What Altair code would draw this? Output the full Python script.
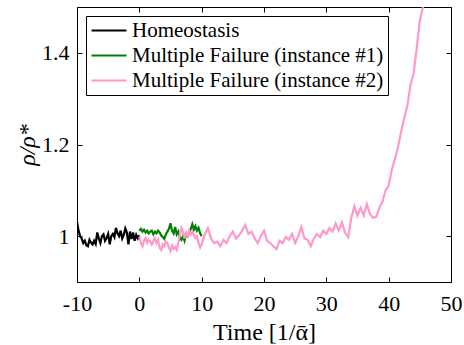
import altair as alt
import pandas as pd

# Series names (legend order)
series_names = ["Homeostasis", "Multiple Failure (instance #1)", "Multiple Failure (instance #2)"]
series_colors = ["#000000", "#008000", "#ff99cc"]

# Homeostasis: t = -10 .. 0, step 0.25
homeo_vals = [1.031, 1.012, 1.000, 0.995, 0.985, 0.990, 0.980, 0.978, 0.992, 0.986,
              0.982, 0.990, 0.983, 1.008, 0.995, 0.985, 1.000, 1.004, 0.990, 0.996,
              1.005, 0.982, 1.000, 1.005, 0.998, 1.018, 1.006, 1.000, 1.012, 0.995,
              1.003, 1.017, 1.008, 0.982, 1.010, 0.994, 1.008, 0.990, 1.003, 0.995,
              1.002]

# Multiple failure #1: t = 0 .. 10, step 0.25
mf1_vals = [1.012, 1.016, 1.010, 1.014, 1.008, 1.012, 1.006, 1.010, 1.012, 1.004,
            1.010, 1.006, 1.012, 1.008, 1.002, 0.998, 0.994, 1.004, 1.010, 1.016,
            1.028, 1.012, 1.006, 1.020, 1.004, 1.010, 0.996, 0.992, 1.000, 0.990,
            1.004, 1.000, 1.010, 1.016, 1.026, 1.014, 1.022, 1.012, 1.018, 1.006,
            1.000]

# Multiple failure #2: t = 0 .. 10 (step 0.25), then 10.5 .. 45.5 (step 0.5)
mf2_vals_a = [1.000, 0.985, 0.978, 0.990, 0.996, 0.985, 0.992, 0.988, 0.982, 0.990,
              0.996, 0.985, 0.992, 0.975, 0.970, 0.982, 0.978, 0.988, 0.985, 0.975,
              0.968, 0.980, 0.972, 0.976, 0.970, 0.985, 1.005, 1.018, 1.010, 0.995,
              1.008, 1.000, 1.012, 1.004, 1.010, 1.002, 0.996, 1.000, 0.985, 0.975,
              0.982]
mf2_vals_b = [1.005, 1.018, 0.995, 0.985, 0.988, 0.978, 0.992, 0.985, 1.000, 1.010,
              0.995, 1.002, 1.012, 1.024, 1.005, 1.010, 0.995, 0.985, 1.000, 1.012,
              0.990, 0.985, 0.978, 0.972, 0.990, 0.985, 0.998, 0.992, 1.005, 0.985,
              1.000, 1.020, 0.995, 0.992, 0.978, 0.995, 1.005, 0.998, 1.012, 1.005,
              1.018, 1.010, 1.028, 1.012, 1.030, 1.008, 0.998, 1.040, 1.065, 1.045,
              1.062, 1.045, 1.070, 1.048, 1.040, 1.042, 1.062, 1.075, 1.100, 1.110,
              1.145, 1.168, 1.195, 1.228, 1.258, 1.285, 1.330, 1.355, 1.410, 1.470,
              1.500]

x_ticks = [-10, 0, 10, 20, 30, 40, 50]
y_ticks = [1.0, 1.2, 1.4]

homeo_t = [-10 + 0.25 * i for i in range(len(homeo_vals))]
mf1_t = [0.25 * i for i in range(len(mf1_vals))]
mf2_t = [0.25 * i for i in range(len(mf2_vals_a))] + [10.5 + 0.5 * i for i in range(len(mf2_vals_b))]
mf2_vals = mf2_vals_a + mf2_vals_b

rows = []
for name, ts, vs in zip(series_names, [homeo_t, mf1_t, mf2_t], [homeo_vals, mf1_vals, mf2_vals]):
    for t, v in zip(ts, vs):
        rows.append({"series": name, "t": t, "value": v})
df = pd.DataFrame(rows)

FONT = "Liberation Serif"
W, H = 374, 275

x_scale = alt.Scale(domain=[-10, 50], nice=False, zero=False)
y_scale = alt.Scale(domain=[0.9, 1.5], nice=False, zero=False)

base = alt.Chart(df)

lines = base.mark_line(strokeWidth=2.2, clip=True).encode(
    x=alt.X("t:Q", scale=x_scale,
            axis=alt.Axis(values=x_ticks, labelExpr="'' + datum.value", ticks=False, tickSize=0,
                          domain=False, grid=False, labelFlush=False, labelFontSize=22,
                          labelPadding=11, labelFont=FONT, labelColor="#000",
                          title="Time [1/ᾱ]", titleFont=FONT, titleFontSize=24,
                          titleColor="#000", titleFontWeight=400,
                          titleBaseline="alphabetic", titleY=57)),
    y=alt.Y("value:Q", scale=y_scale,
            axis=alt.Axis(values=y_ticks, format="~g", ticks=False, tickSize=0, domain=False,
                          grid=False, labelFlush=False, labelFontSize=22, labelPadding=8,
                          labelFont=FONT, labelColor="#000", title="ρ/ρ*", titleFont=FONT,
                          titleFontSize=24, titleFontStyle="italic", titleFontWeight=400,
                          titleColor="#000", titleBaseline="middle", titleX=-50)),
    color=alt.Color("series:N",
                    scale=alt.Scale(domain=series_names, range=series_colors),
                    legend=alt.Legend(title=None, orient="none", legendX=9, legendY=9,
                                      symbolType="stroke", symbolSize=1225, symbolStrokeWidth=2.2,
                                      clipHeight=21, rowPadding=3, labelOffset=4,
                                      labelFont=FONT, labelFontSize=21, labelColor="#000",
                                      labelLimit=400, padding=4, strokeColor="#000",
                                      fillColor="#fff", cornerRadius=0)),
)

# Inward tick marks on the four sides of the frame
def tick_axes(x_orient, y_orient, x_off, y_off):
    return base.mark_point(opacity=0).encode(
        x=alt.X("t:Q", scale=x_scale,
                axis=alt.Axis(orient=x_orient, offset=x_off, values=x_ticks, labels=False,
                              domain=False, grid=False, tickSize=5, tickColor="#000",
                              tickWidth=1, title=None)),
        y=alt.Y("value:Q", scale=y_scale,
                axis=alt.Axis(orient=y_orient, offset=y_off, values=y_ticks, labels=False,
                              domain=False, grid=False, tickSize=5, tickColor="#000",
                              tickWidth=1, title=None)),
    )

ticks_a = tick_axes("top", "right", -H, -W)
ticks_b = tick_axes("bottom", "left", -H, -W)

chart = alt.layer(lines, ticks_a, ticks_b).resolve_axis(
    x="independent", y="independent"
).properties(
    width=W, height=H,
    padding={"left": 15, "top": 4, "right": 0, "bottom": 2},
).configure_view(stroke="#000", strokeWidth=1)

chart.save("out.html", embed_options={"renderer": "svg", "actions": False})
